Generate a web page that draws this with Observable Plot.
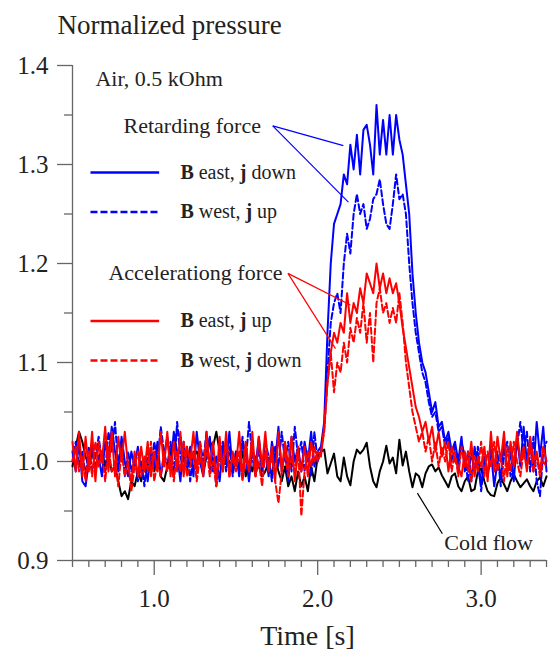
<!DOCTYPE html>
<html><head><meta charset="utf-8">
<script src="https://cdn.jsdelivr.net/npm/d3@7"></script>
<script src="https://cdn.jsdelivr.net/npm/@observablehq/plot@0.6"></script>
<style>
body{margin:0;background:#fff}
#chart svg{font-family:"Liberation Serif","Times New Roman",serif;background:#fff}
</style>
</head><body><div id="chart"></div>
<script>
// sample times [s]
const time = [
0.50,0.52,0.54,0.56,0.58,0.60,0.62,0.64,0.66,0.68,
0.70,0.72,0.74,0.76,0.78,0.80,0.82,0.84,0.86,0.88,
0.90,0.92,0.94,0.96,0.98,1.00,1.02,1.04,1.06,1.08,
1.10,1.12,1.14,1.16,1.18,1.20,1.22,1.24,1.26,1.28,
1.30,1.32,1.34,1.36,1.38,1.40,1.42,1.44,1.46,1.48,
1.50,1.52,1.54,1.56,1.58,1.60,1.62,1.64,1.66,1.68,
1.70,1.72,1.74,1.76,1.78,1.80,1.82,1.84,1.86,1.88,
1.90,1.92,1.94,1.96,1.98,2.00,2.02,2.04,2.06,2.08,
2.10,2.12,2.14,2.16,2.18,2.20,2.22,2.24,2.26,2.28,
2.30,2.32,2.34,2.36,2.38,2.40,2.42,2.44,2.46,2.48,
2.50,2.52,2.54,2.56,2.58,2.60,2.62,2.64,2.66,2.68,
2.70,2.72,2.74,2.76,2.78,2.80,2.82,2.84,2.86,2.88,
2.90,2.92,2.94,2.96,2.98,3.00,3.02,3.04,3.06,3.08,
3.10,3.12,3.14,3.16,3.18,3.20,3.22,3.24,3.26,3.28,
3.30,3.32,3.34,3.36,3.38,3.40];

// B east, j down (retarding)
const blueEastDown = [
1.01,0.99,1.02,0.98,0.975,1.00,1.015,0.99,1.005,0.985,
1.02,1.00,1.035,1.01,0.99,1.025,1.00,0.985,1.01,0.995,
1.015,0.99,1.00,0.98,1.01,0.995,1.02,0.985,1.005,1.025,
0.995,1.03,1.01,0.98,1.02,0.99,1.015,0.985,1.03,1.00,
0.985,1.01,1.025,0.99,1.005,0.98,1.015,1.00,1.03,0.99,
1.01,0.985,1.02,1.005,0.98,1.015,0.995,1.025,0.99,1.01,
0.985,1.02,1.00,1.035,0.99,1.01,0.98,1.025,1.00,1.015,
0.99,1.02,1.00,1.03,0.995,1.01,1.015,1.04,1.13,1.20,
1.24,1.25,1.26,1.29,1.28,1.32,1.295,1.33,1.29,1.335,
1.34,1.32,1.29,1.36,1.31,1.345,1.31,1.35,1.31,1.35,
1.325,1.31,1.28,1.25,1.19,1.15,1.12,1.10,1.09,1.07,
1.05,1.06,1.035,1.04,1.02,1.03,1.01,1.02,1.00,1.025,
0.99,1.01,0.98,1.015,0.995,0.975,1.005,0.985,1.01,0.975,
1.00,0.985,1.02,0.99,1.01,0.98,1.025,0.995,1.035,1.00,
1.02,0.99,1.04,1.005,1.035,0.99];

// B west, j up (retarding)
const blueWestUp = [
1.00,1.02,0.995,1.01,0.985,1.015,0.99,1.005,1.025,1.00,
0.99,1.03,1.01,1.04,0.995,1.02,0.985,1.01,0.99,1.005,
0.98,1.00,0.975,1.01,0.99,1.02,1.00,1.035,1.01,0.995,
1.02,0.985,1.04,1.005,0.99,1.015,0.98,1.01,0.995,1.02,
1.00,1.03,0.99,1.01,0.975,1.005,1.02,0.99,1.015,0.985,
1.01,0.99,1.025,1.00,1.04,1.005,0.985,1.015,0.99,1.02,
1.005,0.98,1.015,0.995,1.03,1.00,1.02,0.99,1.035,1.005,
1.02,0.99,1.01,0.985,1.03,1.00,1.01,1.035,1.09,1.14,
1.16,1.17,1.15,1.20,1.23,1.21,1.25,1.27,1.25,1.26,
1.235,1.245,1.265,1.27,1.285,1.26,1.24,1.235,1.26,1.29,
1.265,1.27,1.25,1.20,1.16,1.13,1.11,1.09,1.08,1.06,
1.045,1.05,1.03,1.035,1.015,1.025,1.00,1.015,0.99,1.02,
1.005,0.98,1.01,0.99,1.015,0.97,1.00,0.985,1.02,0.99,
1.01,0.975,1.005,1.02,0.985,1.00,1.015,1.04,1.01,1.03,
0.99,1.025,0.98,0.965,1.01,1.02];

// B east, j up (accelerating)
const redEastUp = [
1.02,0.99,1.03,0.985,1.025,0.99,1.03,0.98,1.02,1.00,
1.035,0.99,1.03,0.985,1.025,1.00,1.03,0.995,0.98,1.01,
0.985,1.015,0.99,1.02,0.985,1.01,0.99,1.03,0.995,1.03,
0.985,1.02,0.99,1.03,0.985,1.015,1.00,1.03,0.99,1.02,
0.985,1.03,0.995,1.02,0.98,1.025,0.99,1.03,0.985,1.01,
0.995,1.03,0.985,1.02,0.99,1.03,0.985,1.025,0.995,1.03,
0.99,1.015,0.98,1.03,0.99,1.02,0.995,1.025,0.98,1.01,
0.99,1.015,0.985,1.02,1.00,1.01,1.005,1.035,1.08,1.11,
1.13,1.12,1.14,1.13,1.17,1.14,1.16,1.15,1.175,1.16,
1.19,1.18,1.17,1.20,1.175,1.19,1.17,1.185,1.17,1.18,
1.16,1.135,1.115,1.095,1.075,1.055,1.045,1.03,1.04,1.02,
1.035,1.01,1.03,1.005,1.02,0.99,1.015,1.00,0.995,0.985,
1.01,0.99,1.02,0.985,1.005,0.995,1.015,0.98,1.03,0.99,
1.025,1.00,1.03,0.985,1.02,0.995,1.03,1.00,1.015,0.99,
1.025,1.00,1.01,0.99,1.015,1.00];

// B west, j down (accelerating)
const redWestDown = [
1.00,1.015,0.99,1.005,0.98,1.01,0.985,1.02,0.995,1.01,
0.98,1.015,0.99,1.00,0.975,1.01,0.985,1.00,0.97,0.995,
1.01,0.985,1.005,0.99,1.02,0.98,1.00,0.985,1.01,0.99,
1.005,0.98,1.01,0.99,1.02,0.985,0.995,1.01,0.98,1.005,
0.99,1.015,0.985,1.00,0.975,1.01,0.99,1.02,0.985,1.005,
0.99,1.01,0.98,1.005,0.99,1.015,0.985,1.00,0.975,1.01,
0.99,1.005,0.98,0.958,0.99,1.01,0.985,1.005,0.99,1.015,
0.945,0.99,1.01,0.995,1.015,1.00,1.01,1.03,1.08,1.11,
1.07,1.10,1.09,1.12,1.10,1.135,1.12,1.145,1.13,1.16,
1.12,1.15,1.10,1.16,1.175,1.15,1.16,1.14,1.155,1.14,
1.17,1.14,1.10,1.075,1.05,1.035,1.02,1.03,1.01,1.025,
1.00,1.02,0.995,1.015,1.00,1.02,0.99,1.01,0.985,1.015,
0.995,1.01,0.98,1.005,0.99,1.02,0.985,1.01,0.995,1.02,
0.99,1.005,0.98,1.015,0.99,1.02,1.00,0.985,1.01,0.995,
1.015,0.99,1.005,0.985,1.00,0.995];

// cold flow
const coldFlow = [
0.995,1.015,1.03,1.02,1.005,0.995,1.01,0.995,1.005,1.01,
0.995,1.005,0.99,0.995,0.98,0.965,0.97,0.962,0.98,0.975,
0.99,0.98,1.00,0.995,1.01,0.99,1.005,0.985,0.98,0.995,
1.01,1.02,1.03,1.025,1.00,1.01,0.995,1.005,1.01,1.00,
0.99,1.005,1.02,1.015,1.03,1.01,0.995,1.005,1.00,0.99,
1.005,0.995,1.01,0.985,1.00,0.99,1.005,0.995,0.985,0.99,
1.00,0.985,1.005,0.99,0.98,0.995,0.975,0.985,0.97,0.99,
0.975,0.985,0.97,0.995,0.98,1.005,1.01,1.012,0.988,0.998,
1.008,0.985,0.98,1.004,0.985,0.976,1.00,1.012,1.008,1.012,
1.019,0.995,0.98,0.974,0.99,1.00,1.016,0.998,1.004,0.988,
1.022,0.996,1.01,0.99,0.974,0.988,0.985,0.974,0.988,0.995,
0.997,0.99,0.994,0.986,0.98,0.974,0.985,0.988,0.975,0.97,
0.98,0.985,0.97,0.972,0.99,0.993,0.98,0.97,0.966,0.965,
0.978,0.984,0.977,0.97,0.98,0.987,0.98,0.974,0.978,0.982,
0.975,0.97,0.98,0.984,0.975,0.985];

// axis ticks
const yMajorTicks = [0.9,1.0,1.1,1.2,1.3,1.4];
const yMinorTicks = [0.95,1.05,1.15,1.25,1.35];
const xMajorTicks = [1.0,2.0,3.0];
const xMinorTicks = [0.5,0.6,0.7,0.8,0.9,1.1,1.2,1.3,1.4,1.5,1.6,1.7,1.8,1.9,2.1,2.2,2.3,2.4,2.5,2.6,2.7,2.8,2.9,3.1,3.2,3.3,3.4];

// layout of annotations (data units)
const legendItems = [
  {label:"B east, j down", color:"#0000ff", dashed:false, y:1.292},
  {label:"B west, j up",   color:"#0000ff", dashed:true,  y:1.252},
  {label:"B east, j up",   color:"#ff0000", dashed:false, y:1.142},
  {label:"B west, j down", color:"#ff0000", dashed:true,  y:1.102}
];
const leaders = [
  {x1:1.725,y1:1.339,x2:2.157,y2:1.319,c:"#0000ff"},
  {x1:1.725,y1:1.339,x2:2.188,y2:1.262,c:"#0000ff"},
  {x1:1.818,y1:1.190,x2:2.200,y2:1.158,c:"#ff0000"},
  {x1:1.818,y1:1.190,x2:2.109,y2:1.114,c:"#ff0000"},
  {x1:2.610,y1:0.968,x2:2.763,y2:0.927,c:"#000000"}
];

const rows = time.map((t,i)=>({t, be:blueEastDown[i], bw:blueWestUp[i], re:redEastUp[i], rw:redWestDown[i], cf:coldFlow[i]}));

const serif = "Liberation Serif, Times New Roman, serif";
const lineOpts = (y, stroke, dash) => ({x:"t", y, stroke, strokeWidth:2, strokeDasharray:dash, strokeLinejoin:"round"});
const legendLine = (dash) => ({x1:()=>0.61, x2:()=>1.03, y1:"y", y2:"y", stroke:"color", strokeWidth:2.5, strokeDasharray:dash});

const chart = Plot.plot({
  width:553, height:658,
  marginLeft:72, marginRight:7, marginTop:65, marginBottom:98,
  style:{fontFamily:serif, color:"#222", background:"#fff"},
  x:{domain:[0.5,3.4]},
  y:{domain:[0.9,1.4]},
  marks:[
    Plot.axisY({ticks:yMinorTicks, tickSize:8, tickFormat:()=>"", stroke:"#666", strokeWidth:1.3, label:null}),
    Plot.axisY({ticks:yMajorTicks, tickSize:15, tickPadding:9, tickFormat:d3.format(".1f"), fontSize:25, stroke:"#666", strokeWidth:1.3, label:null, fill:"#222"}),
    Plot.axisX({ticks:xMinorTicks, tickSize:7, tickFormat:()=>"", stroke:"#666", strokeWidth:1.3, label:null}),
    Plot.axisX({ticks:xMajorTicks, tickSize:15, tickPadding:14, tickFormat:d3.format(".1f"), fontSize:25, stroke:"#666", strokeWidth:1.3, label:null, fill:"#222"}),
    Plot.ruleX([0.5], {stroke:"#666", strokeWidth:1.3}),
    Plot.ruleY([0.9], {stroke:"#666", strokeWidth:1.3}),
    Plot.line(rows, lineOpts("cf", "#000000", null)),
    Plot.line(rows, lineOpts("bw", "#0000ff", "6,3")),
    Plot.line(rows, lineOpts("be", "#0000ff", null)),
    Plot.line(rows, lineOpts("rw", "#ff0000", "6,3")),
    Plot.line(rows, lineOpts("re", "#ff0000", null)),
    Plot.link(leaders, {x1:"x1", y1:"y1", x2:"x2", y2:"y2", stroke:"c", strokeWidth:1.2}),
    Plot.link(legendItems.filter(d=>!d.dashed), legendLine(null)),
    Plot.link(legendItems.filter(d=>d.dashed), legendLine("7,3")),
    Plot.text(legendItems, {x:()=>1.16, y:"y", text:"label", textAnchor:"start", fontSize:20, fill:"#222"}),
    Plot.text(["Air, 0.5 kOhm"], {x:()=>0.64, y:()=>1.386, textAnchor:"start", fontSize:22, fill:"#222"}),
    Plot.text(["Retarding force"], {x:()=>0.812, y:()=>1.339, textAnchor:"start", fontSize:22, fill:"#222"}),
    Plot.text(["Accelerationg force"], {x:()=>0.72, y:()=>1.190, textAnchor:"start", fontSize:22, fill:"#222"}),
    Plot.text(["Cold flow"], {x:()=>2.775, y:()=>0.918, textAnchor:"start", fontSize:22, fill:"#222"}),
    Plot.text(["Normalized pressure"], {frameAnchor:"top-left", dx:-15, dy:-51, textAnchor:"start", fontSize:27, fill:"#222"}),
    Plot.text(["Time [s]"], {frameAnchor:"bottom", dx:-2, dy:84, fontSize:28, fill:"#222"})
  ]
});

// bold "B" and "j" in legend labels
chart.querySelectorAll("text").forEach(el => {
  const m = /^B (east|west), j (up|down)$/.exec(el.textContent);
  if (m) {
    el.innerHTML = `<tspan font-weight="bold">B</tspan> ${m[1]}, <tspan font-weight="bold">j</tspan> ${m[2]}`;
  }
});

document.getElementById("chart").appendChild(chart);
</script>
</body></html>
